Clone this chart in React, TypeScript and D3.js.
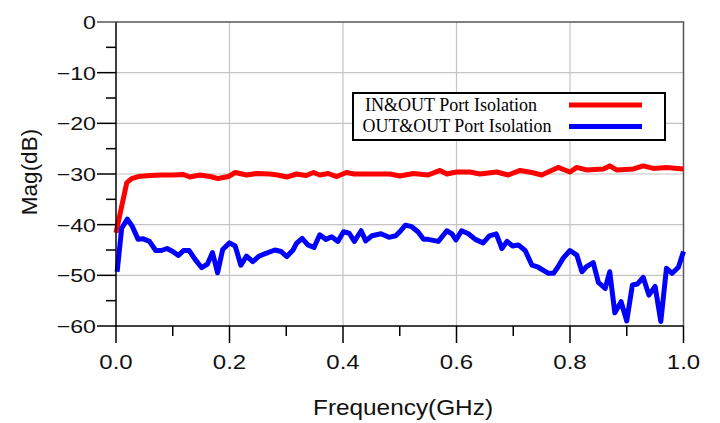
import { useEffect, useRef } from 'react';
import * as d3 from 'd3';

// Colors
const COLOR_IN_OUT = "#FF0000";
const COLOR_OUT_OUT = "#0000FF";
const COLOR_GRID = "#C4C4C4";
const COLOR_FRAME = "#555555";

// IN&OUT port isolation (red)
const IN_OUT_FREQ = [0, 0.019, 0.028, 0.039, 0.06, 0.08, 0.1, 0.119, 0.13, 0.148, 0.166, 0.18, 0.198, 0.21, 0.23, 0.248, 0.271, 0.285, 0.301, 0.318, 0.335, 0.348, 0.359, 0.374, 0.389, 0.406, 0.42, 0.436, 0.459, 0.483, 0.5, 0.524, 0.55, 0.571, 0.583, 0.6, 0.624, 0.641, 0.671, 0.691, 0.712, 0.733, 0.75, 0.779, 0.8, 0.812, 0.829, 0.859, 0.87, 0.882, 0.912, 0.929, 0.947, 0.97, 1.0];
const IN_OUT_MAG = [-41.6, -31.7, -30.9, -30.5, -30.3, -30.2, -30.2, -30.1, -30.6, -30.2, -30.5, -30.9, -30.5, -29.7, -30.2, -29.9, -30.0, -30.2, -30.6, -30.0, -30.3, -29.7, -30.2, -29.9, -30.5, -29.7, -30.0, -30.0, -30.0, -30.0, -30.4, -29.9, -30.2, -29.3, -30.0, -29.6, -29.6, -30.0, -29.6, -30.2, -29.3, -29.7, -30.2, -28.7, -29.6, -28.7, -29.2, -29.0, -28.4, -29.2, -29.0, -28.4, -28.9, -28.7, -29.0];

// OUT&OUT port isolation (blue)
const OUT_OUT_FREQ = [0.002, 0.01, 0.02, 0.029, 0.039, 0.048, 0.059, 0.07, 0.08, 0.09, 0.1, 0.11, 0.119, 0.129, 0.139, 0.151, 0.161, 0.17, 0.179, 0.188, 0.2, 0.21, 0.22, 0.23, 0.241, 0.251, 0.261, 0.28, 0.291, 0.301, 0.312, 0.318, 0.328, 0.338, 0.349, 0.359, 0.37, 0.38, 0.391, 0.401, 0.411, 0.42, 0.432, 0.44, 0.451, 0.467, 0.481, 0.493, 0.5, 0.51, 0.521, 0.532, 0.542, 0.55, 0.568, 0.583, 0.592, 0.599, 0.609, 0.621, 0.633, 0.647, 0.658, 0.67, 0.68, 0.689, 0.699, 0.709, 0.721, 0.733, 0.744, 0.762, 0.771, 0.779, 0.788, 0.8, 0.812, 0.821, 0.829, 0.841, 0.85, 0.862, 0.87, 0.879, 0.89, 0.9, 0.91, 0.919, 0.929, 0.939, 0.95, 0.96, 0.97, 0.98, 0.991, 1.0];
const OUT_OUT_MAG = [-49.3, -40.7, -38.9, -40.4, -42.9, -42.8, -43.3, -45.1, -45.1, -44.7, -45.3, -46.1, -45.1, -45.1, -46.8, -48.5, -47.8, -45.5, -49.5, -44.9, -43.6, -44.2, -48.0, -46.2, -47.3, -46.3, -45.8, -45.0, -45.3, -46.3, -45.0, -43.7, -42.7, -44.0, -44.5, -42.0, -42.9, -42.4, -43.3, -41.4, -41.7, -43.3, -41.2, -43.2, -42.2, -41.8, -42.5, -42.2, -41.4, -40.1, -40.4, -41.4, -42.9, -42.9, -43.3, -41.2, -41.8, -43.0, -41.2, -41.8, -42.9, -43.6, -42.2, -41.8, -44.7, -43.3, -44.2, -44.0, -45.1, -48.0, -48.4, -49.6, -49.6, -48.3, -46.6, -45.1, -46.0, -49.3, -48.3, -47.5, -51.4, -52.6, -49.3, -57.4, -55.2, -59.0, -51.9, -51.7, -50.4, -53.9, -52.2, -59.1, -48.6, -49.6, -48.4, -45.3];

// Axis ticks
const X_MAJOR = [0, 0.2, 0.4, 0.6, 0.8, 1.0];
const X_MINOR = [0.1, 0.3, 0.5, 0.7, 0.9];
const Y_MAJOR = [0, -10, -20, -30, -40, -50, -60];
const Y_MINOR = [-5, -15, -25, -35, -45, -55];

const LEGEND_ITEMS = ["IN&OUT Port Isolation", "OUT&OUT Port Isolation"];
const LEGEND_COLORS = [COLOR_IN_OUT, COLOR_OUT_OUT];

export default function App() {
  const svgRef = useRef<SVGSVGElement>(null);

  useEffect(() => {
    if (!svgRef.current) return;
    const svg = d3.select(svgRef.current);
    svg.selectAll("*").remove();

    const left = 116, right = 683.5, top = 22, bottom = 326;
    const x = d3.scaleLinear().domain([0, 1]).range([left, right]);
    const y = d3.scaleLinear().domain([-60, 0]).range([bottom, top]);

    svg.append("rect").attr("width", 720).attr("height", 423).attr("fill", "white");

    // grid
    const grid = svg.append("g").attr("stroke", COLOR_GRID).attr("stroke-width", 1.2);
    grid.selectAll("line.v")
      .data(X_MAJOR.slice(1, -1))
      .join("line")
      .attr("x1", d => x(d)).attr("x2", d => x(d))
      .attr("y1", top).attr("y2", bottom);
    grid.selectAll("line.h")
      .data(Y_MAJOR.slice(1, -1))
      .join("line")
      .attr("class", "h")
      .attr("x1", left).attr("x2", right)
      .attr("y1", d => y(d)).attr("y2", d => y(d));

    // frame (top + right)
    svg.append("path")
      .attr("d", `M${left},${top}H${right}V${bottom}`)
      .attr("fill", "none")
      .attr("stroke", COLOR_FRAME)
      .attr("stroke-width", 1.5);

    // curves
    const line = d3.line<[number, number]>()
      .x(d => x(d[0]))
      .y(d => y(d[1]));

    svg.append("path")
      .datum(IN_OUT_FREQ.map((f, i) => [f, IN_OUT_MAG[i]] as [number, number]))
      .attr("d", line)
      .attr("fill", "none")
      .attr("stroke", COLOR_IN_OUT)
      .attr("stroke-width", 5)
      .attr("stroke-linejoin", "round");

    svg.append("path")
      .datum(OUT_OUT_FREQ.map((f, i) => [f, OUT_OUT_MAG[i]] as [number, number]))
      .attr("d", line)
      .attr("fill", "none")
      .attr("stroke", COLOR_OUT_OUT)
      .attr("stroke-width", 5)
      .attr("stroke-linejoin", "round");

    // axes
    const axes = svg.append("g").attr("stroke", "black").attr("stroke-width", 1.5);
    axes.append("line").attr("x1", left).attr("x2", left).attr("y1", top).attr("y2", bottom);
    axes.append("line").attr("x1", left).attr("x2", right).attr("y1", bottom).attr("y2", bottom);

    axes.selectAll("line.ym")
      .data(Y_MAJOR)
      .join("line")
      .attr("class", "ym")
      .attr("x1", left - 19).attr("x2", left)
      .attr("y1", d => y(d)).attr("y2", d => y(d))
      .attr("stroke", d => (d === 0 ? COLOR_FRAME : "black"));
    axes.selectAll("line.yn")
      .data(Y_MINOR)
      .join("line")
      .attr("class", "yn")
      .attr("x1", left - 10).attr("x2", left)
      .attr("y1", d => y(d)).attr("y2", d => y(d));
    axes.selectAll("line.xm")
      .data(X_MAJOR)
      .join("line")
      .attr("class", "xm")
      .attr("x1", d => x(d)).attr("x2", d => x(d))
      .attr("y1", bottom).attr("y2", bottom + 17);
    axes.selectAll("line.xn")
      .data(X_MINOR)
      .join("line")
      .attr("class", "xn")
      .attr("x1", d => x(d)).attr("x2", d => x(d))
      .attr("y1", bottom).attr("y2", bottom + 10);

    const sans = "'Liberation Sans', Arial, sans-serif";

    // tick labels (slightly stretched horizontally like the source)
    svg.append("g")
      .selectAll("text")
      .data(Y_MAJOR)
      .join("text")
      .attr("transform", d => `translate(${left - 20},${y(d) + 7}) scale(1.22,1)`)
      .attr("text-anchor", "end")
      .attr("font-family", sans)
      .attr("font-size", 19)
      .attr("fill", "#111")
      .text(d => d3.format("d")(d));

    svg.append("g")
      .selectAll("text")
      .data(X_MAJOR)
      .join("text")
      .attr("transform", d => `translate(${x(d)},${bottom + 43}) scale(1.2,1)`)
      .attr("text-anchor", "middle")
      .attr("font-family", sans)
      .attr("font-size", 20)
      .attr("fill", "#111")
      .text(d => d3.format(".1f")(d));

    // axis titles
    svg.append("text")
      .attr("x", 403)
      .attr("y", 415)
      .attr("text-anchor", "middle")
      .attr("font-family", sans)
      .attr("font-size", 21.5)
      .attr("textLength", 180)
      .attr("lengthAdjust", "spacingAndGlyphs")
      .attr("fill", "#111")
      .text("Frequency(GHz)");

    svg.append("text")
      .attr("transform", "translate(37,172) rotate(-90)")
      .attr("text-anchor", "middle")
      .attr("font-family", sans)
      .attr("font-size", 22.5)
      .attr("fill", "#111")
      .text("Mag(dB)");

    // legend
    const legend = svg.append("g");
    legend.append("rect")
      .attr("x", 353).attr("y", 93)
      .attr("width", 312).attr("height", 47)
      .attr("fill", "white")
      .attr("stroke", "black")
      .attr("stroke-width", 2);

    const textX = [365, 362.5];
    const textLen = [172, 189];
    LEGEND_ITEMS.forEach((label, i) => {
      const yy = 105 + i * 21.5;
      legend.append("text")
        .attr("x", textX[i])
        .attr("y", yy + 5.5)
        .attr("font-family", "'Liberation Serif', 'Times New Roman', serif")
        .attr("font-size", 18)
        .attr("textLength", textLen[i])
        .attr("lengthAdjust", "spacingAndGlyphs")
        .attr("fill", "black")
        .text(label);
      legend.append("line")
        .attr("x1", 569).attr("x2", 642)
        .attr("y1", yy).attr("y2", yy)
        .attr("stroke", LEGEND_COLORS[i])
        .attr("stroke-width", 5);
    });
  }, []);

  return (
    <svg
      ref={svgRef}
      width={720}
      height={423}
      style={{ position: 'absolute', left: 0, top: 0, display: 'block' }}
    />
  );
}
